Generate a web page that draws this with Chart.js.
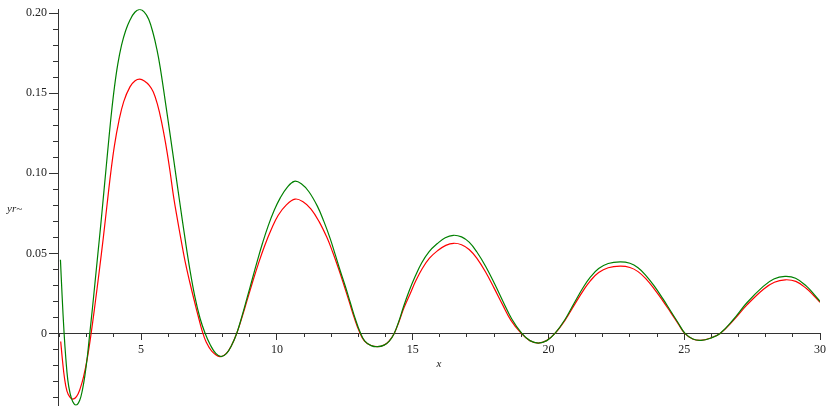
<!DOCTYPE html>
<html>
<head>
<meta charset="utf-8">
<script src="https://cdn.jsdelivr.net/npm/chart.js@4.4.1/dist/chart.umd.min.js"></script>
<style>
  body { margin: 0; background: #fff; }
  #wrap { width: 830px; height: 415px; position: relative; }
</style>
</head>
<body>
<div id="wrap"><canvas id="line-chart"></canvas></div>
<script>
// nilai (x, y)
var greenX = [2.03, 2.09, 2.165, 2.23, 2.30, 2.38, 2.48, 2.61, 2.74, 2.84, 2.93, 3.02, 3.11, 3.21, 3.31, 3.41, 3.51, 3.61, 3.71, 3.81,
  3.91, 4.02, 4.14, 4.28, 4.43, 4.60, 4.77, 4.94, 5.11, 5.28, 5.45, 5.58, 5.70, 5.88, 6.07, 6.22, 6.41, 6.62, 6.80, 6.98,
  7.17, 7.36, 7.55, 7.75, 7.95, 8.15, 8.33, 8.52, 8.71, 8.90, 9.09, 9.28, 9.47, 9.68, 9.91, 10.12, 10.38, 10.64, 10.90, 11.18,
  11.49, 11.73, 11.96, 12.15, 12.33, 12.52, 12.70, 12.88, 13.06, 13.24, 13.47, 13.71, 13.95, 14.14, 14.32, 14.49, 14.66, 14.87, 15.09, 15.33,
  15.60, 15.90, 16.20, 16.50, 16.80, 17.08, 17.36, 17.70, 18.03, 18.34, 18.65, 19.02, 19.32, 19.63, 19.94, 20.24, 20.61, 20.95, 21.29, 21.55,
  21.85, 22.20, 22.64, 23.00, 23.30, 23.60, 23.90, 24.20, 24.50, 24.78, 25.03, 25.32, 25.62, 25.97, 26.32, 26.81, 27.30, 27.91, 28.30, 28.71,
  29.10, 29.51, 29.75, 30.00];
var greenY = [0.046, 0.024, 0.0, -0.016, -0.029, -0.037, -0.0425, -0.0447, -0.0417, -0.0352, -0.0264, -0.0146, 0.0, 0.016, 0.033, 0.050, 0.067, 0.085, 0.103, 0.121,
  0.138, 0.154, 0.168, 0.180, 0.189, 0.196, 0.2006, 0.2023, 0.2008, 0.1962, 0.1870, 0.1775, 0.1665, 0.1462, 0.1240, 0.1062, 0.0835, 0.0590, 0.0395, 0.0230,
  0.0095, 0.0, -0.0072, -0.0125, -0.0145, -0.0125, -0.0075, 0.0, 0.0105, 0.022, 0.0337, 0.0453, 0.0563, 0.0672, 0.0772, 0.0845, 0.0912, 0.095, 0.0935, 0.0885,
  0.0795, 0.0700, 0.0594, 0.0492, 0.0393, 0.0295, 0.0195, 0.0095, 0.0010, -0.0048, -0.0076, -0.0083, -0.0073, -0.0048, 0.0, 0.0075, 0.0165, 0.0265, 0.0355, 0.0440,
  0.0510, 0.0560, 0.0598, 0.0613, 0.0603, 0.0570, 0.0510, 0.0415, 0.0305, 0.0195, 0.0090, 0.0, -0.0045, -0.006, -0.0045, 0.0, 0.0087, 0.019, 0.0290, 0.0353,
  0.0405, 0.0437, 0.0447, 0.0438, 0.0410, 0.0360, 0.0295, 0.0220, 0.0140, 0.0065, 0.0, -0.0035, -0.0043, -0.003, 0.0, 0.0087, 0.019, 0.0294, 0.0340, 0.0356,
  0.0345, 0.0294, 0.025, 0.020];

var redX = [2.04, 2.10, 2.18, 2.27, 2.38, 2.49, 2.62, 2.75, 2.88, 3.02, 3.16, 3.31, 3.46, 3.61, 3.75, 3.88, 4.02, 4.18, 4.36, 4.59,
  4.78, 4.95, 5.12, 5.30, 5.45, 5.60, 5.75, 5.90, 6.05, 6.20, 6.35, 6.46, 6.62, 6.80, 6.98, 7.13, 7.25, 7.40, 7.60, 7.90,
  8.12, 8.32, 8.52, 8.71, 8.90, 9.10, 9.32, 9.55, 9.80, 10.05, 10.35, 10.67, 10.95, 11.25, 11.55, 11.84, 12.05, 12.26, 12.46, 12.66,
  12.85, 13.04, 13.22, 13.45, 13.70, 13.94, 14.13, 14.32, 14.50, 14.68, 14.90, 15.12, 15.36, 15.62, 15.92, 16.22, 16.51, 16.80, 17.08, 17.36,
  17.68, 18.00, 18.31, 18.62, 19.00, 19.31, 19.62, 19.93, 20.24, 20.62, 20.96, 21.30, 21.55, 21.85, 22.20, 22.64, 23.00, 23.30, 23.60, 23.90,
  24.20, 24.50, 24.78, 25.02, 25.31, 25.60, 25.95, 26.32, 26.82, 27.32, 27.93, 28.32, 28.72, 29.11, 29.50, 29.75, 30.00];
var redY = [-0.005, -0.016, -0.028, -0.036, -0.0398, -0.041, -0.0395, -0.0348, -0.0272, -0.0154, 0.0, 0.019, 0.039, 0.060, 0.081, 0.100, 0.1175, 0.1325, 0.1448, 0.1540,
  0.1578, 0.1588, 0.1577, 0.1550, 0.1508, 0.1432, 0.1325, 0.1190, 0.1030, 0.0850, 0.0700, 0.0595, 0.0450, 0.0315, 0.0190, 0.0090, 0.0015, -0.0055, -0.0110, -0.0145,
  -0.0128, -0.0078, 0.0, 0.0098, 0.0205, 0.0318, 0.0436, 0.0548, 0.0652, 0.0738, 0.0803, 0.0839, 0.0824, 0.0778, 0.0700, 0.0600, 0.0510, 0.0410, 0.0307, 0.0200,
  0.0097, 0.0010, -0.0046, -0.0074, -0.0083, -0.0073, -0.0048, 0.0, 0.0075, 0.0160, 0.0245, 0.0330, 0.0407, 0.0470, 0.0517, 0.0550, 0.0563, 0.0554, 0.0524, 0.0470,
  0.0385, 0.0283, 0.0180, 0.0082, 0.0, -0.0045, -0.006, -0.0045, 0.0, 0.0085, 0.018, 0.0272, 0.0330, 0.0380, 0.0410, 0.042, 0.0412, 0.0386, 0.0339, 0.0277,
  0.0207, 0.0132, 0.0060, 0.0, -0.0035, -0.0043, -0.003, 0.0, 0.0083, 0.018, 0.0278, 0.032, 0.0335, 0.0325, 0.028, 0.024, 0.0194];

var xTickLabels = [5, 10, 15, 20, 25, 30];
var yTickLabels = [0, 0.05, 0.10, 0.15, 0.20];

function toPoints(xs, ys) {
  var pts = [];
  for (var i = 0; i < xs.length; i++) {
    pts.push({x: xs[i], y: ys[i]});
  }
  return pts;
}

function isMajor(list, v) {
  for (var i = 0; i < list.length; i++) {
    if (Math.abs(list[i] - v) < 1e-6) return true;
  }
  return false;
}

var fontSerif = '"Liberation Serif", "DejaVu Serif", serif';

// label sumbu y (horizontal, miring)
var yLabelPlugin = {
  id: 'yLabel',
  afterDraw: function (chart) {
    var ctx = chart.ctx;
    ctx.save();
    ctx.font = 'italic 11px ' + fontSerif;
    ctx.fillStyle = '#222';
    ctx.textBaseline = 'middle';
    ctx.textAlign = 'left';
    ctx.fillText('yr~', 7, 209);
    ctx.restore();
  }
};

new Chart(document.getElementById("line-chart"), {
  type: 'line',
  data: {
    datasets: [
      {
        label: 'green',
        data: toPoints(greenX, greenY),
        borderColor: '#008000',
        borderWidth: 1.2,
        pointRadius: 0,
        fill: false,
        tension: 0.4
      },
      {
        label: 'red',
        data: toPoints(redX, redY),
        borderColor: '#ff0000',
        borderWidth: 1.2,
        pointRadius: 0,
        fill: false,
        tension: 0.4
      }
    ]
  },
  options: {
    responsive: true,
    maintainAspectRatio: false,
    animation: false,
    devicePixelRatio: 1,
    layout: { padding: { top: 8, bottom: 8, right: 10, left: 0 } },
    plugins: {
      legend: { display: false },
      tooltip: { enabled: false }
    },
    scales: {
      x: {
        type: 'linear',
        position: { y: 0 },
        min: 1.94,
        max: 30,
        grid: {
          drawOnChartArea: false,
          drawTicks: true,
          tickLength: 6,
          color: '#333',
          tickBorderDash: function (c) {
            return isMajor(xTickLabels, c.tick.value) ? [] : [3, 100];
          }
        },
        border: { display: true, color: '#333', width: 1 },
        ticks: {
          stepSize: 1,
          includeBounds: false,
          autoSkip: false,
          maxRotation: 0,
          padding: 3,
          color: '#222',
          font: { family: fontSerif, size: 12 },
          callback: function (v) {
            return isMajor(xTickLabels, v) ? String(Math.round(v)) : '';
          }
        },
        title: {
          display: true,
          text: 'x',
          color: '#222',
          padding: { top: -2, bottom: 0 },
          font: { family: fontSerif, size: 11, style: 'italic' }
        }
      },
      y: {
        type: 'linear',
        position: 'left',
        min: -0.0452,
        max: 0.2025,
        afterFit: function (scale) { scale.width = 58; },
        grid: {
          drawOnChartArea: false,
          drawTicks: true,
          tickLength: 9,
          color: '#333',
          tickBorderDash: function (c) {
            return isMajor(yTickLabels, c.tick.value) ? [] : [0, 4, 5, 100];
          }
        },
        border: { display: true, color: '#333', width: 1 },
        ticks: {
          stepSize: 0.01,
          includeBounds: false,
          autoSkip: false,
          padding: 2,
          color: '#222',
          font: { family: fontSerif, size: 12 },
          callback: function (v) {
            if (!isMajor(yTickLabels, v)) return '';
            if (Math.abs(v) < 1e-6) return '0';
            return v.toFixed(2);
          }
        }
      }
    }
  },
  plugins: [yLabelPlugin]
});
</script>
</body>
</html>
